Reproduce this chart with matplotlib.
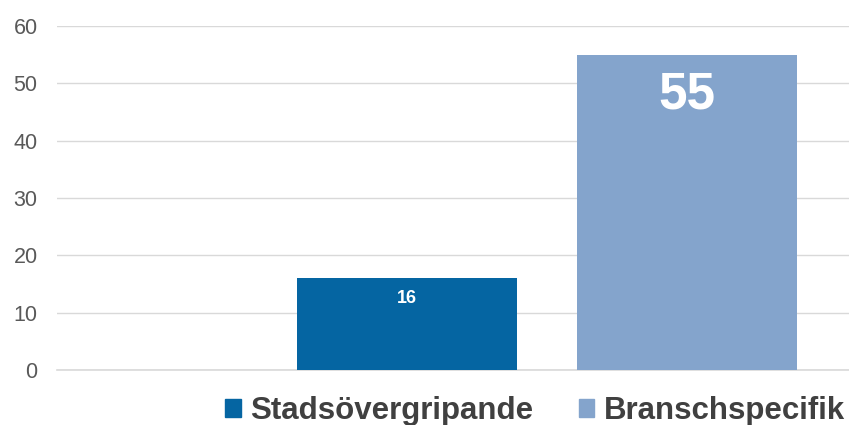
import matplotlib.pyplot as plt
from matplotlib.patches import Patch

# data
series = ['Stadsövergripande', 'Branschspecifik']
values = [16, 55]
colors = ['#0565a2', '#84a4cc']
label_sizes = [13, 37]
label_offsets = [-20, -40]  # pixels below bar top

plt.rcParams['font.family'] = ['Liberation Sans', 'DejaVu Sans']

fig = plt.figure(figsize=(8.49, 4.25), dpi=100)
ax = fig.add_axes([57/849, 1 - 370/425, 1 - 57/849, (370 - 26)/425])

xs = list(range(len(values)))
bars = ax.bar(xs, values, width=0.786, color=colors, zorder=2)

for b, v, s, off in zip(bars, values, label_sizes, label_offsets):
    ax.annotate(str(v), (b.get_x() + b.get_width()/2, v), xytext=(0, off),
                textcoords='offset pixels', ha='center', va='center',
                color='white', fontsize=s, fontweight='bold')

ax.set_xlim(-1.25, 1.579)
ax.set_ylim(0, 60)
ax.set_yticks(range(0, 61, 10))
ax.set_xticks([])
ax.grid(axis='y', color='#d9d9d9', linewidth=1, zorder=0)
ax.axhline(0, color='#d9d9d9', linewidth=1.2, zorder=1, clip_on=False)
for sp in ax.spines.values():
    sp.set_visible(False)
ax.tick_params(axis='y', length=0, pad=14, labelsize=15.5, labelcolor='#595959')

handles = [Patch(color=c, label=n) for c, n in zip(colors, series)]
leg = fig.legend(handles=handles, loc='center', bbox_to_anchor=(535/849, 1 - 411/425),
                 ncol=2, frameon=False, handlelength=0.5, handleheight=0.5,
                 handletextpad=0.3, columnspacing=1.45,
                 prop={'size': 22.5, 'weight': 'bold'})
for t in leg.get_texts():
    t.set_color('#404040')

fig.savefig('out.png', dpi=100)
